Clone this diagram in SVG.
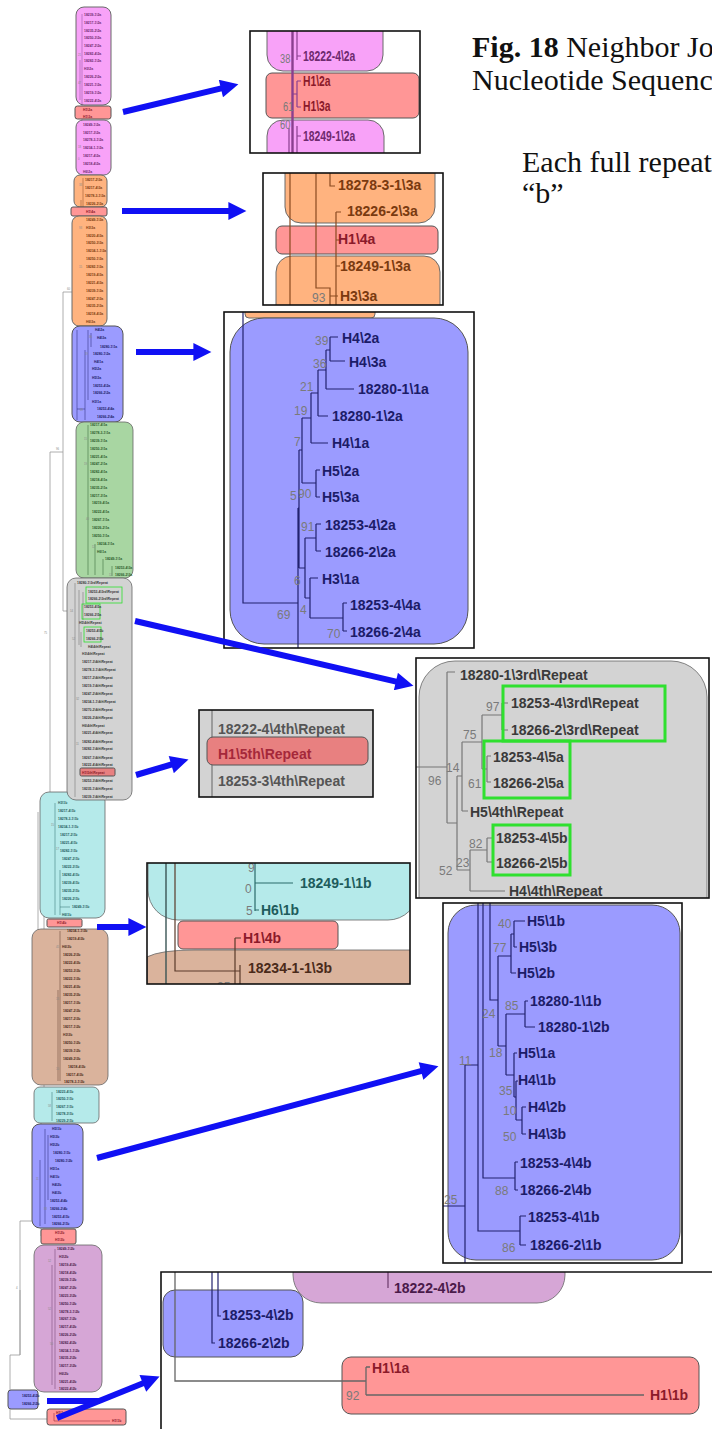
<svg xmlns="http://www.w3.org/2000/svg" width="712" height="1429" viewBox="0 0 712 1429">
<style>
.cap{font-family:"Liberation Serif","Times New Roman",serif;font-size:30px;fill:#111}
.lab{font-family:"Liberation Sans",Arial,sans-serif;font-weight:bold;font-size:14px}
.num{font-family:"Liberation Sans",Arial,sans-serif;font-size:12px;fill:#7a7a7a}
.t{font-family:"Liberation Sans",Arial,sans-serif;font-weight:bold;font-size:3.4px}
.tn{font-family:"Liberation Sans",Arial,sans-serif;font-size:2.8px;fill:#8a8a8a}
.frame{fill:none;stroke:#111;stroke-width:1.6}
.pk{fill:#f8a2f8;stroke:#6a6a6a;stroke-width:1}
.rd{fill:#ff9696;stroke:#555;stroke-width:1}
.rd2{fill:#e88080;stroke:#555;stroke-width:1}
.or{fill:#ffb37f;stroke:#6a6a6a;stroke-width:1}
.bl{fill:#9b9bff;stroke:#555;stroke-width:1}
.gn{fill:#a8d6a2;stroke:#666;stroke-width:0.8}
.gy{fill:#d3d3d3;stroke:#666;stroke-width:0.8}
.cy{fill:#b5eaea;stroke:#666;stroke-width:0.8}
.br{fill:#dab39c;stroke:#666;stroke-width:0.8}
.pu{fill:#d6a6d6;stroke:#666;stroke-width:0.8}
.gb{fill:none;stroke:#2fe02f;stroke-width:3}
.gbs{fill:none;stroke:#2fe02f;stroke-width:0.8}
.cp{fill:#6e2a6e}.cr{fill:#8b1a2a}.co{fill:#7a3a10}.cb{fill:#1c1c68}.cg{fill:#2a5a2a}
.ck{fill:#3a3a3a}.cc{fill:#1e5c5c}.cn{fill:#4a2a1a}.cm{fill:#4a1a4a}
.lp{fill:none;stroke:#8a3f8f;stroke-width:1.2}
.lo{fill:none;stroke:#8a4a20;stroke-width:1.2}
.lb{fill:none;stroke:#22226e;stroke-width:1.2}
.lk{fill:none;stroke:#777;stroke-width:1.2}
.lc{fill:none;stroke:#2a6a6a;stroke-width:1.2}
.ln{fill:none;stroke:#5a3a2a;stroke-width:1.2}
.lm{fill:none;stroke:#6a3a6a;stroke-width:1.2}
.s{fill:none;stroke-width:0.5}
.bb{fill:none;stroke:#9a9a9a;stroke-width:0.8}
.arr{stroke:#1010f4;stroke-width:6;fill:none;marker-end:url(#ah)}
</style>
<defs>
<marker id="ah" viewBox="0 0 10 10" refX="2" refY="5" markerWidth="3.4" markerHeight="3" orient="auto" markerUnits="strokeWidth">
<path d="M0,0 L10,5 L0,10 z" fill="#1010f4"/>
</marker>
<clipPath id="c1"><rect x="250" y="31" width="170" height="122"/></clipPath>
<clipPath id="c2"><rect x="263" y="173" width="180" height="132"/></clipPath>
<clipPath id="c3"><rect x="224" y="312" width="250" height="336"/></clipPath>
<clipPath id="c4"><rect x="416" y="658" width="293" height="240"/></clipPath>
<clipPath id="c5"><rect x="199" y="710" width="174" height="87"/></clipPath>
<clipPath id="c6"><rect x="147" y="863" width="263" height="121"/></clipPath>
<clipPath id="c7"><rect x="443" y="903" width="239" height="360"/></clipPath>
<clipPath id="c8"><rect x="161" y="1272" width="553" height="159"/></clipPath>
</defs>
<rect width="712" height="1429" fill="#fff"/>

<!-- caption -->
<g id="caption">
<text class="cap" x="472" y="57"><tspan font-weight="bold">Fig. 18</tspan> Neighbor Jo</text>
<text class="cap" x="472" y="90">Nucleotide Sequenc</text>
<text class="cap" x="522" y="172">Each full repeat</text>
<text class="cap" x="522" y="203">“b”</text>
</g>

<!-- overview tree (left column) -->
<g id="overview-tree">
<g id="backbone">
<path class="bb" d="M75,292H63V611H72M63,452H50V800H44V1105H34M38,812V1085M41,1105V1236H41M32,1221H20V1355H10V1419H47M20,1290V1355M10,1400H8"/>
<text class="tn" x="67" y="290">60</text>
<text class="tn" x="56" y="450">96</text>
<text class="tn" x="44" y="634">75</text>
<text class="tn" x="36" y="936">12</text>
<text class="tn" x="38" y="1046">2</text>
<text class="tn" x="16" y="1289">4</text>
</g>

<g id="ov-pink1">
<rect class="pk" x="76" y="7" width="35" height="98" rx="8" stroke-width="0.8"/>
<path class="s" stroke="#8a4a9a" d="M82,14V172M80,60V100"/>
<text class="t cp"><tspan x="84" y="16.2">18239-1\2a</tspan><tspan x="84" y="24.2">18217-1\2a</tspan><tspan x="84" y="32.2">18235-2\2a</tspan><tspan x="84" y="39.2">18250-3\2a</tspan><tspan x="84" y="47.2">18247-2\2a</tspan><tspan x="84" y="55.2">18282-4\2a</tspan><tspan x="84" y="62.2">18282-1\2a</tspan><tspan x="84" y="70.2">H3\2a</tspan><tspan x="84" y="78.2">18226-2\2a</tspan><tspan x="84" y="86.2">18221-1\2a</tspan><tspan x="84" y="94.2">18219-1\2a</tspan><tspan x="84" y="102.2">18222-4\2a</tspan></text>
<text class="tn" x="78" y="56">21</text><text class="tn" x="78" y="84">47</text>
</g>
<g id="ov-red1">
<rect class="rd" x="75" y="106" width="36" height="13" rx="2.5" stroke-width="0.8"/>
<text class="t cr"><tspan x="83" y="110.7">H1\2a</tspan><tspan x="83" y="117.7">H1\3a</tspan></text>
</g>
<g id="ov-pink2">
<rect class="pk" x="76" y="120" width="35" height="55" rx="7" stroke-width="0.8"/>
<text class="t cp"><tspan x="83" y="126.2">18249-1\2a</tspan><tspan x="83" y="134.2">18217-3\2a</tspan><tspan x="83" y="141.2">18278-3-1\2a</tspan><tspan x="83" y="149.2">18234-1-1\2a</tspan><tspan x="83" y="157.2">18217-4\2a</tspan><tspan x="83" y="165.2">18218-4\2a</tspan><tspan x="83" y="173.2">H6\2a</tspan></text>
<text class="tn" x="78" y="148">18</text><text class="tn" x="78" y="160">0</text>
</g>
<g id="ov-orange1">
<rect class="or" x="74" y="175" width="33" height="32" rx="6" stroke-width="0.8"/>
<path class="s" stroke="#8a4a20" d="M83,178V323M81,200V320"/>
<text class="t co"><tspan x="85" y="181.2">18217-2\3a</tspan><tspan x="85" y="189.2">18217-4\3a</tspan><tspan x="85" y="197.2">18278-3-1\3a</tspan><tspan x="86" y="205.2">18226-2\3a</tspan></text>
<text class="tn" x="79" y="186">33</text>
</g>
<g id="ov-red2">
<rect class="rd" x="71" y="207" width="36" height="9" rx="2" stroke-width="0.8"/>
<text class="t cr" x="86" y="212.7">H1\4a</text>
</g>
<g id="ov-orange2">
<rect class="or" x="72" y="216" width="35" height="110" rx="7" stroke-width="0.8"/>
<text class="t co"><tspan x="86" y="221.2">18249-1\3a</tspan><tspan x="86" y="229.2">H3\3a</tspan><tspan x="86" y="237.2">18220-4\3a</tspan><tspan x="86" y="244.2">18250-3\3a</tspan><tspan x="86" y="252.2">18234-1-1\3a</tspan><tspan x="86" y="260.2">18250-1\3a</tspan><tspan x="86" y="268.2">18282-1\3a</tspan><tspan x="86" y="276.2">18219-4\3a</tspan><tspan x="86" y="284.2">18221-4\3a</tspan><tspan x="86" y="292.2">18239-1\3a</tspan><tspan x="86" y="300.2">18247-2\3a</tspan><tspan x="86" y="307.2">18235-2\3a</tspan><tspan x="86" y="315.2">18218-4\3a</tspan><tspan x="86" y="323.2">H6\3a</tspan></text>
<text class="tn" x="79" y="229">93</text><text class="tn" x="79" y="268">15</text>
</g>
<g id="ov-blue1">
<rect class="bl" x="72" y="326" width="51" height="96" rx="8" stroke-width="0.8"/>
<path class="s" stroke="#22226e" d="M77,330V420M77,409H85M85,350V420M88,330V400M91,333V347"/>
<text class="t cb"><tspan x="95" y="331.2">H4\2a</tspan><tspan x="97" y="339.2">H4\3a</tspan><tspan x="100" y="348.2">18280-1\1a</tspan><tspan x="93" y="355.2">18280-1\2a</tspan><tspan x="94" y="363.2">H4\1a</tspan><tspan x="92" y="370.2">H5\2a</tspan><tspan x="92" y="379.2">H5\3a</tspan><tspan x="93" y="387.2">18253-4\2a</tspan><tspan x="93" y="394.2">18266-2\2a</tspan><tspan x="92" y="403.2">H3\1a</tspan><tspan x="97" y="410.2">18253-4\4a</tspan><tspan x="97" y="418.2">18266-2\4a</tspan></text>
<text class="tn" x="80" y="411">69</text><text class="tn" x="89" y="338">36</text><text class="tn" x="85" y="355">19</text>
</g>
<g id="ov-green">
<rect class="gn" x="76" y="422" width="57" height="156" rx="8"/>
<path class="s" stroke="#2a5a2a" d="M88,425V575M95,544V575M103,559V575M112,566V576"/>
<text class="t cg"><tspan x="90" y="426.2">18217-4\1a</tspan><tspan x="90" y="434.2">18278-3-1\1a</tspan><tspan x="90" y="442.2">18239-1\1a</tspan><tspan x="90" y="450.2">18250-3\1a</tspan><tspan x="90" y="458.2">18221-4\1a</tspan><tspan x="90" y="465.2">18247-2\1a</tspan><tspan x="90" y="473.2">18282-4\1a</tspan><tspan x="90" y="481.2">18218-4\1a</tspan><tspan x="90" y="489.2">18235-2\1a</tspan><tspan x="90" y="497.2">18217-3\1a</tspan><tspan x="92" y="504.2">18219-4\1a</tspan><tspan x="92" y="513.2">18222-4\1a</tspan><tspan x="92" y="521.2">18267-1\1a</tspan><tspan x="92" y="529.2">18226-2\1a</tspan><tspan x="92" y="537.2">18250-1\1a</tspan><tspan x="97" y="545.2">18234-1\1a</tspan><tspan x="97" y="553.2">H6\1a</tspan><tspan x="105" y="560.2">18249-1\1a</tspan><tspan x="115" y="569.2">18253-4\3a</tspan><tspan x="115" y="576.2">18266-2\3a</tspan></text>
<text class="tn" x="84" y="440">15</text><text class="tn" x="84" y="465">19</text><text class="tn" x="86" y="520">40</text><text class="tn" x="92" y="548">12</text><text class="tn" x="109" y="576">12</text>
</g>
<g id="ov-cyan1">
<rect class="cy" x="40" y="792" width="65" height="126" rx="9"/>
<path class="s" stroke="#2a6a6a" d="M55,803V915M60,870V915M60,907H70"/>
<text class="t cc"><tspan x="58" y="804.2">H3\1b</tspan><tspan x="58" y="812.2">18217-4\1b</tspan><tspan x="58" y="820.2">18278-3-1\1b</tspan><tspan x="58" y="828.2">18234-1-1\1b</tspan><tspan x="60" y="836.2">18217-2\1b</tspan><tspan x="60" y="844.2">18221-4\1b</tspan><tspan x="60" y="852.2">18282-1\1b</tspan><tspan x="62" y="860.2">18247-2\1b</tspan><tspan x="62" y="868.2">18222-3\1b</tspan><tspan x="62" y="876.2">18282-4\1b</tspan><tspan x="62" y="884.2">18239-4\1b</tspan><tspan x="62" y="892.2">18235-2\1b</tspan><tspan x="62" y="900.2">18226-2\1b</tspan><tspan x="72" y="908.2">18249-1\1b</tspan><tspan x="62" y="916.2">H6\1b</tspan></text>
<text class="tn" x="51" y="826">15</text><text class="tn" x="56" y="850">17</text>
</g>
<g id="ov-gray">
<rect class="gy" x="67" y="578" width="65" height="222" rx="9"/>
<path class="s" stroke="#666" d="M75,583V797M79,590V645M83,592V620M81,632V647"/>
<rect class="gbs" x="86" y="587" width="36" height="16"/>
<rect class="gbs" x="82" y="604" width="18" height="15"/>
<rect class="gbs" x="84" y="627" width="17" height="15"/>
<rect class="rd2" x="80" y="768" width="35" height="8" rx="1.5" stroke-width="0.6"/>
<text class="t ck"><tspan x="77" y="584.2">18280-1\3rd\Repeat</tspan><tspan x="88" y="593.2">18253-4\3rd\Repeat</tspan><tspan x="88" y="600.2">18266-2\3rd\Repeat</tspan><tspan x="84" y="608.2">18253-4\5a</tspan><tspan x="84" y="616.2">18266-2\5a</tspan><tspan x="79" y="624.2">H5\4th\Repeat</tspan><tspan x="86" y="632.2">18253-4\5b</tspan><tspan x="86" y="640.2">18266-2\5b</tspan><tspan x="88" y="648.2">H4\4th\Repeat</tspan><tspan x="82" y="655.2">H3\4th\Repeat</tspan><tspan x="82" y="663.2">18217-3\4th\Repeat</tspan><tspan x="82" y="671.2">18278-3-1\4th\Repeat</tspan><tspan x="82" y="679.2">18217-2\4th\Repeat</tspan><tspan x="82" y="687.2">18219-1\4th\Repeat</tspan><tspan x="82" y="695.2">18247-2\4th\Repeat</tspan><tspan x="82" y="703.2">18234-1-1\4th\Repeat</tspan><tspan x="82" y="711.2">18270-2\4th\Repeat</tspan><tspan x="82" y="719.2">18226-2\4th\Repeat</tspan><tspan x="82" y="727.2">H6\4th\Repeat</tspan><tspan x="82" y="734.2">18221-4\4th\Repeat</tspan><tspan x="82" y="743.2">18282-4\4th\Repeat</tspan><tspan x="82" y="750.2">18282-1\4th\Repeat</tspan><tspan x="82" y="759.2">18267-1\4th\Repeat</tspan><tspan x="82" y="766.2">18222-4\4th\Repeat</tspan></text>
<text class="t cr" x="82" y="774.2">H1\5th\Repeat</text>
<text class="t ck"><tspan x="82" y="782.2">18253-3\4th\Repeat</tspan><tspan x="82" y="790.2">18235-1\4th\Repeat</tspan><tspan x="82" y="798.2">18239-1\4th\Repeat</tspan></text>
<text class="tn" x="70" y="612">14</text><text class="tn" x="72" y="640">52</text><text class="tn" x="76" y="700">32</text><text class="tn" x="76" y="745">11</text>
</g>
<g id="ov-red3">
<rect class="rd" x="47" y="919" width="35" height="8" rx="1.5" stroke-width="0.6"/>
<text class="t cr" x="57" y="924.2">H1\4b</text>
</g>
<g id="ov-brown">
<rect class="br" x="32" y="929" width="76" height="156" rx="9"/>
<path class="s" stroke="#5a3a2a" d="M60,931V1081M58,990V1081"/>
<text class="t cn"><tspan x="67" y="932.2">18234-1-1\3b</tspan><tspan x="67" y="940.2">18219-4\3b</tspan><tspan x="62" y="948.2">H6\3b</tspan><tspan x="63" y="956.1">18226-2\3b</tspan><tspan x="63" y="964">18222-4\3b</tspan><tspan x="63" y="972">18253-3\3b</tspan><tspan x="63" y="980">18222-1\3b</tspan><tspan x="63" y="988">18221-4\3b</tspan><tspan x="63" y="996">18235-2\3b</tspan><tspan x="63" y="1004">18217-1\3b</tspan><tspan x="63" y="1012">18247-2\3b</tspan><tspan x="63" y="1020">18217-2\3b</tspan><tspan x="63" y="1028">18217-1\2b</tspan><tspan x="63" y="1036">H3\3b</tspan><tspan x="63" y="1044">18250-1\2b</tspan><tspan x="63" y="1052">18239-1\2b</tspan><tspan x="63" y="1060">18249-2\3b</tspan><tspan x="68" y="1068">18218-4\3b</tspan><tspan x="66" y="1076">18217-4\3b</tspan><tspan x="64" y="1083">18278-3-1\3b</tspan></text>
<text class="tn" x="56" y="948">45</text><text class="tn" x="56" y="1000">13</text><text class="tn" x="56" y="1070">10</text>
</g>
<g id="ov-cyan2">
<rect class="cy" x="34" y="1087" width="65" height="36" rx="6"/>
<path class="s" stroke="#2a6a6a" d="M52,1092V1121"/>
<text class="t cc"><tspan x="56" y="1093.2">18223-4\1b</tspan><tspan x="56" y="1100.2">18250-1\1b</tspan><tspan x="56" y="1108.2">18267-1\1b</tspan><tspan x="56" y="1115.2">18278-3\1b</tspan><tspan x="56" y="1122.2">18229-2\1b</tspan></text>
<text class="tn" x="48" y="1107">58</text>
</g>
<g id="ov-blue2">
<rect class="bl" x="32" y="1124" width="51" height="104" rx="8" stroke-width="0.8"/>
<path class="s" stroke="#22226e" d="M45,1129V1224M40,1160V1226M48,1135V1200"/>
<text class="t cb"><tspan x="52" y="1130.2">H5\1b</tspan><tspan x="50" y="1138.1">H5\3b</tspan><tspan x="50" y="1146">H5\2b</tspan><tspan x="53" y="1154">18280-1\1b</tspan><tspan x="55" y="1162">18280-1\2b</tspan><tspan x="50" y="1170">H5\1a</tspan><tspan x="50" y="1178">H4\1b</tspan><tspan x="52" y="1185.5">H4\2b</tspan><tspan x="52" y="1193.5">H4\3b</tspan><tspan x="50" y="1201.5">18253-4\4b</tspan><tspan x="50" y="1209.5">18266-2\4b</tspan><tspan x="52" y="1217.5">18253-4\1b</tspan><tspan x="52" y="1225.3">18266-2\1b</tspan></text>
<text class="tn" x="36" y="1180">11</text><text class="tn" x="44" y="1210">88</text>
</g>
<g id="ov-red4">
<rect class="rd" x="41" y="1229" width="35" height="15" rx="2" stroke-width="0.8"/>
<text class="t cr"><tspan x="55" y="1234.2">H1\2b</tspan><tspan x="55" y="1241.2">H1\3b</tspan></text>
</g>
<g id="ov-purple">
<rect class="pu" x="34" y="1245" width="68" height="147" rx="10"/>
<path class="s" stroke="#6a3a6a" d="M55,1249V1389M52,1265V1385"/>
<text class="t cm"><tspan x="57" y="1250.2">18249-1\2b</tspan><tspan x="59" y="1258">H3\2b</tspan><tspan x="59" y="1265.8">18219-4\2b</tspan><tspan x="59" y="1273.6">18218-4\2b</tspan><tspan x="59" y="1281.4">18239-1\2b</tspan><tspan x="59" y="1289.2">18247-2\2b</tspan><tspan x="59" y="1297">18223-3\2b</tspan><tspan x="59" y="1304.8">18250-1\2b</tspan><tspan x="59" y="1312.6">18278-3-1\2b</tspan><tspan x="59" y="1320.4">18267-1\2b</tspan><tspan x="59" y="1328.2">18217-4\2b</tspan><tspan x="59" y="1336">18226-2\2b</tspan><tspan x="59" y="1343.8">18282-4\2b</tspan><tspan x="59" y="1351.6">18234-1-1\2b</tspan><tspan x="59" y="1359.4">18235-2\2b</tspan><tspan x="59" y="1367.2">18217-3\2b</tspan><tspan x="59" y="1375">H6\2b</tspan><tspan x="59" y="1382.8">18221-4\2b</tspan><tspan x="59" y="1390">18222-4\2b</tspan></text>
<text class="tn" x="48" y="1262">12</text><text class="tn" x="48" y="1310">52</text><text class="tn" x="50" y="1345">50</text>
</g>
<g id="ov-bluesmall">
<rect class="bl" x="8" y="1390" width="30" height="19" rx="3" stroke-width="0.8"/>
<text class="t cb"><tspan x="22" y="1397.2">18253-4\2b</tspan><tspan x="22" y="1405.2">18266-2\2b</tspan></text>
</g>
<g id="ov-redbottom">
<rect class="rd" x="47" y="1409" width="79" height="16" rx="2.5" stroke-width="0.8"/>
<path class="s" stroke="#8b1a2a" d="M54,1413V1421H110"/>
<text class="t cr"><tspan x="56" y="1414.2">H1\1a</tspan><tspan x="112" y="1422.2">H1\1b</tspan></text>
</g>
</g>

<!-- detail 1: pink / red clusters (narrow type) -->
<g id="detail-1">
<g clip-path="url(#c1)">
<rect x="250" y="31" width="170" height="122" fill="#fff"/>
<path class="pk" d="M267,20V55a16,16 0 0 0 16,16H367a16,16 0 0 0 16,-16V20Z"/>
<rect class="rd" x="266" y="73" width="153" height="45" rx="6"/>
<path class="pk" d="M267,165V136a16,16 0 0 1 16,-16H368a16,16 0 0 1 16,16V165Z"/>
<path d="M292.5,31V153" stroke="#8a3f8f" stroke-width="2.4" fill="none"/>
<path class="lp" d="M297,31V60M297,56h4M297,81V107M297,81h4M297,107h4M293,94h4M297,126V153M297,136h4M289,128V153"/>
<text class="lab cp" transform="translate(303,61) scale(0.74,1)">18222-4\2a</text>
<text class="lab cr" transform="translate(303,86) scale(0.74,1)">H1\2a</text>
<text class="lab cr" transform="translate(303,111) scale(0.74,1)">H1\3a</text>
<text class="lab cp" transform="translate(303,141) scale(0.74,1)">18249-1\2a</text>
<text class="num" transform="translate(280,63) scale(0.78,1)">38</text>
<text class="num" transform="translate(283,111) scale(0.78,1)">61</text>
<text class="num" transform="translate(280,129) scale(0.78,1)">60</text>
</g>
<rect class="frame" x="250" y="31" width="170" height="122"/>
</g>

<!-- detail 2: orange / red clusters -->
<g id="detail-2">
<g clip-path="url(#c2)">
<rect x="263" y="173" width="180" height="132" fill="#fff"/>
<path class="or" d="M285,160V207a16,16 0 0 0 16,16H419a16,16 0 0 0 16,-16V160Z"/>
<rect class="rd" x="276" y="226" width="162" height="28" rx="6"/>
<path class="or" d="M276,320V272a16,16 0 0 1 16,-16H424a16,16 0 0 1 16,16V320Z"/>
<path class="lo" d="M290,173V305M316,173V288H330V305M330,173V186h5M336,212V305M336,212h5M336,240h4M336,266h4M330,296h8"/>
<text class="lab co" x="338" y="190">18278-3-1\3a</text>
<text class="lab co" x="347" y="216">18226-2\3a</text>
<text class="lab cr" x="338" y="244">H1\4a</text>
<text class="lab co" x="340" y="271">18249-1\3a</text>
<text class="lab co" x="340" y="301">H3\3a</text>
<text class="num" x="312" y="302">93</text>
</g>
<rect class="frame" x="263" y="173" width="180" height="132"/>
</g>

<!-- detail 3: blue "a" cluster -->
<g id="detail-3">
<g clip-path="url(#c3)">
<rect x="224" y="312" width="250" height="336" fill="#fff"/>
<rect class="or" x="245" y="300" width="130" height="18" rx="4"/>
<rect class="bl" x="230" y="318" width="238" height="326" rx="34"/>
<path class="lb" d="M243,312V603H298M298,508V648M298,508H299M299,450V568M299,450H302M299,568H305M302,418V483M302,418H311M302,483H316M311,393V443M311,393H318M311,443H328M318,370V416M318,370H326M318,416H328M326,350V389M326,350H330M326,389H354M330,337V361M330,337H338M330,361H345M316,470V497M316,470H320M316,497H320M305,538V598M305,538H316M316,524V551M316,524H321M316,551H321M305,598H310M310,578V618M310,578H318M310,618H343M343,603V631M343,603H347M343,631H347"/>
<text class="lab cb" x="342" y="343">H4\2a</text>
<text class="lab cb" x="349" y="367">H4\3a</text>
<text class="lab cb" x="358" y="394">18280-1\1a</text>
<text class="lab cb" x="332" y="421">18280-1\2a</text>
<text class="lab cb" x="332" y="448">H4\1a</text>
<text class="lab cb" x="322" y="476">H5\2a</text>
<text class="lab cb" x="322" y="502">H5\3a</text>
<text class="lab cb" x="325" y="530">18253-4\2a</text>
<text class="lab cb" x="325" y="557">18266-2\2a</text>
<text class="lab cb" x="322" y="584">H3\1a</text>
<text class="lab cb" x="350" y="610">18253-4\4a</text>
<text class="lab cb" x="350" y="637">18266-2\4a</text>
<text class="num" x="315" y="345">39</text>
<text class="num" x="313" y="368">36</text>
<text class="num" x="300" y="391">21</text>
<text class="num" x="294" y="415">19</text>
<text class="num" x="294" y="446">7</text>
<text class="num" x="290" y="500">5</text>
<text class="num" x="298" y="498">90</text>
<text class="num" x="301" y="531">91</text>
<text class="num" x="294" y="585">6</text>
<text class="num" x="277" y="619">69</text>
<text class="num" x="300" y="614">4</text>
<text class="num" x="327" y="638">70</text>
</g>
<rect class="frame" x="224" y="312" width="250" height="336"/>
</g>

<!-- detail 4: repeat cluster with green marks -->
<g id="detail-4">
<g clip-path="url(#c4)">
<rect x="416" y="658" width="293" height="240" fill="#fff"/>
<rect class="gy" x="419" y="661" width="288" height="300" rx="36"/>
<path class="lk" d="M416,767H447M447,672V823M447,672H455M447,823H457M457,776V870M457,776H462M457,870H470M462,742V811M462,742H482M462,811H468M482,715V769M482,715H502M482,769H487M502,703V730M502,703H508M502,730H508M487,756V782M487,756H491M487,782H491M470,850V891M470,850H487M470,891H505M487,838V862M487,838H492M487,862H492"/>
<rect class="gb" x="503" y="686" width="162" height="55"/>
<rect class="gb" x="484" y="741" width="86" height="57"/>
<rect class="gb" x="493" y="825" width="77" height="50"/>
<text class="lab ck" x="460" y="680">18280-1\3rd\Repeat</text>
<text class="lab ck" x="511" y="708">18253-4\3rd\Repeat</text>
<text class="lab ck" x="511" y="735">18266-2\3rd\Repeat</text>
<text class="lab ck" x="493" y="762">18253-4\5a</text>
<text class="lab ck" x="493" y="788">18266-2\5a</text>
<text class="lab ck" x="470" y="817">H5\4th\Repeat</text>
<text class="lab ck" x="496" y="843">18253-4\5b</text>
<text class="lab ck" x="496" y="868">18266-2\5b</text>
<text class="lab ck" x="509" y="896">H4\4th\Repeat</text>
<text class="num" x="486" y="711">97</text>
<text class="num" x="463" y="739">75</text>
<text class="num" x="468" y="788">61</text>
<text class="num" x="428" y="785">96</text>
<text class="num" x="446" y="772">14</text>
<text class="num" x="469" y="848">82</text>
<text class="num" x="456" y="867">23</text>
<text class="num" x="439" y="875">52</text>
</g>
<rect class="frame" x="416" y="658" width="293" height="240"/>
</g>

<!-- detail 5: 5th repeat -->
<g id="detail-5">
<g clip-path="url(#c5)">
<rect x="199" y="710" width="174" height="87" fill="#d3d3d3"/>
<path d="M212,710V797" stroke="#888" stroke-width="1.5" fill="none"/>
<rect class="rd2" x="207" y="737" width="161" height="28" rx="6"/>
<text class="lab" fill="#555" x="218" y="734">18222-4\4th\Repeat</text>
<text class="lab" fill="#a5283a" x="218" y="759">H1\5th\Repeat</text>
<text class="lab" fill="#555" x="218" y="786">18253-3\4th\Repeat</text>
</g>
<rect class="frame" x="199" y="710" width="174" height="87"/>
</g>

<!-- detail 6: H1\4b between cyan and brown -->
<g id="detail-6">
<g clip-path="url(#c6)">
<rect x="147" y="863" width="263" height="121" fill="#fff"/>
<rect class="cy" x="148" y="820" width="270" height="100" rx="30"/>
<path class="br" d="M147,957Q160,950 195,950H420V1000H147Z"/>
<rect class="rd" x="178" y="921" width="160" height="28" rx="5"/>
<path d="M166,863V984" stroke="#3a5555" stroke-width="1.4" fill="none"/>
<path class="ln" d="M175,863V971H240M240,965V984M235,938V984M235,938H241"/>
<path class="lc" d="M255,863V911M255,883H293M255,910H259"/>
<text class="lab cc" x="300" y="888">18249-1\1b</text>
<text class="lab cc" x="261" y="915">H6\1b</text>
<text class="lab cr" x="243" y="943">H1\4b</text>
<text class="lab cn" x="248" y="973">18234-1-1\3b</text>
<text class="num" fill="#6a8a8a" x="245" y="893">0</text>
<text class="num" fill="#6a8a8a" x="246" y="915">5</text>
<text class="num" fill="#6a8a8a" x="248" y="872">9</text>
<text class="num" x="217" y="991">95</text>
</g>
<rect class="frame" x="147" y="863" width="263" height="121"/>
</g>

<!-- detail 7: blue "b" cluster -->
<g id="detail-7">
<g clip-path="url(#c7)">
<rect x="443" y="903" width="239" height="360" fill="#fff"/>
<rect class="bl" x="448" y="905" width="232" height="355" rx="28"/>
<path class="lb" d="M490,903V1000H498M498,956V1046M498,956H511M498,1046H506M511,934V973M511,934H514M511,973H516M514,921V947M514,921H525M514,947H517M506,1014V1075M506,1014H525M506,1075H514M525,1001V1027M525,1001H528M525,1027H535M514,1053V1097M514,1053H517M514,1097H516M516,1081V1120M516,1081H518M516,1120H522M522,1107V1134M522,1107H526M522,1134H526M483,903V1178H515M515,1162V1190M515,1162H518M515,1190H518M478,903V1231H520M520,1216V1245M520,1216H526M520,1245H526M465,1065H478M465,1065V1263M443,1206H465"/>
<text class="lab cb" x="527" y="926">H5\1b</text>
<text class="lab cb" x="519" y="952">H5\3b</text>
<text class="lab cb" x="517" y="978">H5\2b</text>
<text class="lab cb" x="530" y="1006">18280-1\1b</text>
<text class="lab cb" x="538" y="1032">18280-1\2b</text>
<text class="lab cb" x="518" y="1058">H5\1a</text>
<text class="lab cb" x="518" y="1085">H4\1b</text>
<text class="lab cb" x="528" y="1112">H4\2b</text>
<text class="lab cb" x="528" y="1139">H4\3b</text>
<text class="lab cb" x="520" y="1168">18253-4\4b</text>
<text class="lab cb" x="520" y="1195">18266-2\4b</text>
<text class="lab cb" x="528" y="1222">18253-4\1b</text>
<text class="lab cb" x="530" y="1250">18266-2\1b</text>
<text class="num" x="498" y="928">40</text>
<text class="num" x="493" y="952">77</text>
<text class="num" x="505" y="1010">85</text>
<text class="num" x="482" y="1018">24</text>
<text class="num" x="489" y="1057">18</text>
<text class="num" x="459" y="1065">11</text>
<text class="num" x="499" y="1095">35</text>
<text class="num" x="503" y="1115">10</text>
<text class="num" x="503" y="1141">50</text>
<text class="num" x="495" y="1195">88</text>
<text class="num" x="444" y="1204">25</text>
<text class="num" x="502" y="1252">86</text>
</g>
<rect class="frame" x="443" y="903" width="239" height="360"/>
</g>

<!-- detail 8: root with H1\1a / H1\1b -->
<g id="detail-8">
<g clip-path="url(#c8)">
<rect x="161" y="1272" width="553" height="159" fill="#fff"/>
<path class="pu" d="M293,1250V1275a28,28 0 0 0 28,28H537a28,28 0 0 0 28,-28V1250Z"/>
<rect class="bl" x="163" y="1290" width="140" height="67" rx="12"/>
<rect class="rd" x="342" y="1357" width="357" height="57" rx="9"/>
<path class="lm" d="M388,1272V1288"/>
<path class="lb" d="M218,1272V1316H221M212,1272V1343H215"/>
<path d="M175,1272V1381H366M366,1367V1395M366,1367H370M366,1395H644" stroke="#666" stroke-width="1.3" fill="none"/>
<text class="lab cm" x="394" y="1293">18222-4\2b</text>
<text class="lab cb" x="222" y="1320">18253-4\2b</text>
<text class="lab cb" x="218" y="1348">18266-2\2b</text>
<text class="lab cr" x="372" y="1373">H1\1a</text>
<text class="lab cr" x="650" y="1400">H1\1b</text>
<text class="num" fill="#9a5a5a" x="346" y="1400">92</text>
</g>
<path d="M161,1429V1272H712" class="frame" stroke-width="2"/>
</g>

<!-- pointers from overview to details -->
<g id="connectors">
<path class="arr" d="M123,112L224.4,87.7"/>
<path class="arr" d="M122,211H232"/>
<path class="arr" d="M136,352H197"/>
<path class="arr" d="M135,621L399.4,682.4"/>
<path class="arr" d="M136,775L174.7,763.5"/>
<path class="arr" d="M97,927H132"/>
<path class="arr" d="M97,1158L424.5,1070.1"/>
<path d="M47,1401H100" stroke="#1010f4" stroke-width="6" fill="none"/>
<path class="arr" d="M57,1418L146.2,1382"/>
</g>
</svg>
